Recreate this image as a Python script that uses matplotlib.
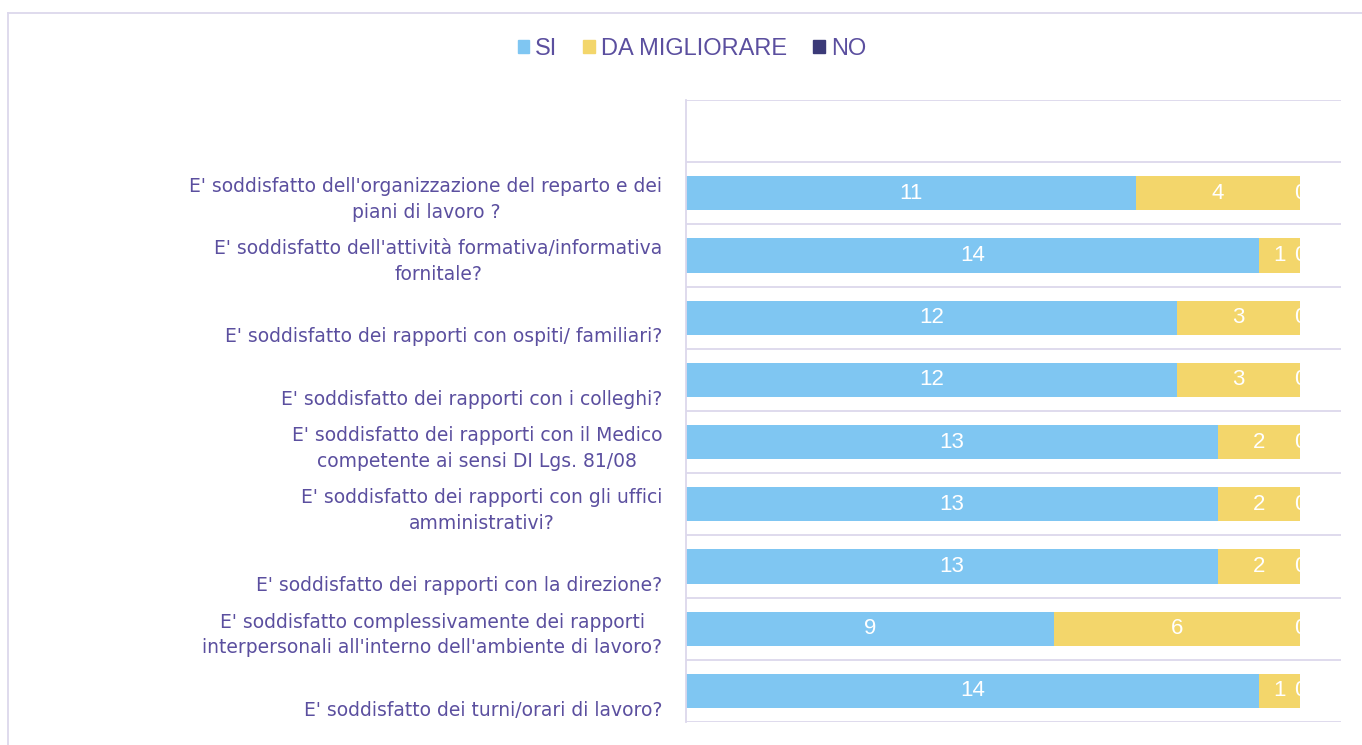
import matplotlib
matplotlib.use('Agg')
import matplotlib.pyplot as plt
from matplotlib.patches import Rectangle
from matplotlib.lines import Line2D
import numpy as np

file_output = 'out.png'

questions = [
    "E' soddisfatto dell'organizzazione del reparto e dei\npiani di lavoro ?",
    "E' soddisfatto dell'attività formativa/informativa\nfornitale?",
    "E' soddisfatto dei rapporti con ospiti/ familiari?",
    "E' soddisfatto dei rapporti con i colleghi?",
    "E' soddisfatto dei rapporti con il Medico\ncompetente ai sensi DI Lgs. 81/08",
    "E' soddisfatto dei rapporti con gli uffici\namministrativi?",
    "E' soddisfatto dei rapporti con la direzione?",
    "E' soddisfatto complessivamente dei rapporti\ninterpersonali all'interno dell'ambiente di lavoro?",
    "E' soddisfatto dei turni/orari di lavoro?",
]
si = [11, 14, 12, 12, 13, 13, 13, 9, 14]
da_migliorare = [4, 1, 3, 3, 2, 2, 2, 6, 1]
no = [0, 0, 0, 0, 0, 0, 0, 0, 0]

series_names = ['SI', 'DA MIGLIORARE', 'NO']
colors = ['#7fc6f2', '#f3d66b', '#3b3a78']
text_color = '#5b4f9f'
grid_color = '#dcd8ec'

fig = plt.figure(figsize=(13.62, 7.45), dpi=100)
W, H = 1362, 745
ax = fig.add_axes([686 / W, 1 - 722 / H, (1341 - 686) / W, (722 - 100) / H])

y = np.arange(len(questions))
left = np.zeros(len(questions))
for name, vals, col in zip(series_names, [si, da_migliorare, no], colors):
    vals = np.array(vals, dtype=float)
    ax.barh(y, vals, left=left, height=0.55, color=col, label=name)
    for yi, l, v in zip(y, left, vals):
        t = ax.text(l + v / 2, yi, str(int(v)), ha='center', va='center',
                    color='white', fontsize=16, family='Liberation Sans')
        # labels are cut off at the end of the stacked bar
        t.set_clip_path(Rectangle((0, yi - 0.5), l + v if v > 0 else l, 1,
                                  transform=ax.transData))
    left += vals

ax.set_xlim(0, 16)
ax.set_ylim(len(questions) - 0.5, -1.5)

for g in np.arange(-1.5, len(questions), 1.0):
    ax.axhline(g, color=grid_color, lw=1.3, zorder=0)

for s in ['top', 'right', 'bottom']:
    ax.spines[s].set_visible(False)
ax.spines['left'].set_color(grid_color)
ax.spines['left'].set_linewidth(1.3)
ax.set_xticks([])
ax.set_yticks([])

for yi, q in zip(y, questions):
    ax.text(-0.036, yi + 0.46, q, transform=ax.get_yaxis_transform(),
            ha='right', va='bottom', multialignment='center',
            color=text_color, fontsize=13.5, family='DejaVu Sans', linespacing=1.45)

handles = [Rectangle((0, 0), 1, 1, color=c) for c in colors]
fig.legend(handles, series_names, loc='center', bbox_to_anchor=(0.508, 1 - 49 / H),
           ncol=3, frameon=False, handlelength=0.5, handleheight=0.5,
           handletextpad=0.25, columnspacing=1.1,
           prop={'family': 'Liberation Sans', 'size': 17}, labelcolor=text_color)

# outer chart frame
fig.add_artist(Line2D([8 / W, 1], [1 - 13 / H, 1 - 13 / H], color=grid_color, lw=1.3))
fig.add_artist(Line2D([8 / W, 8 / W], [0, 1 - 13 / H], color=grid_color, lw=1.3))

fig.savefig(file_output, dpi=100)
